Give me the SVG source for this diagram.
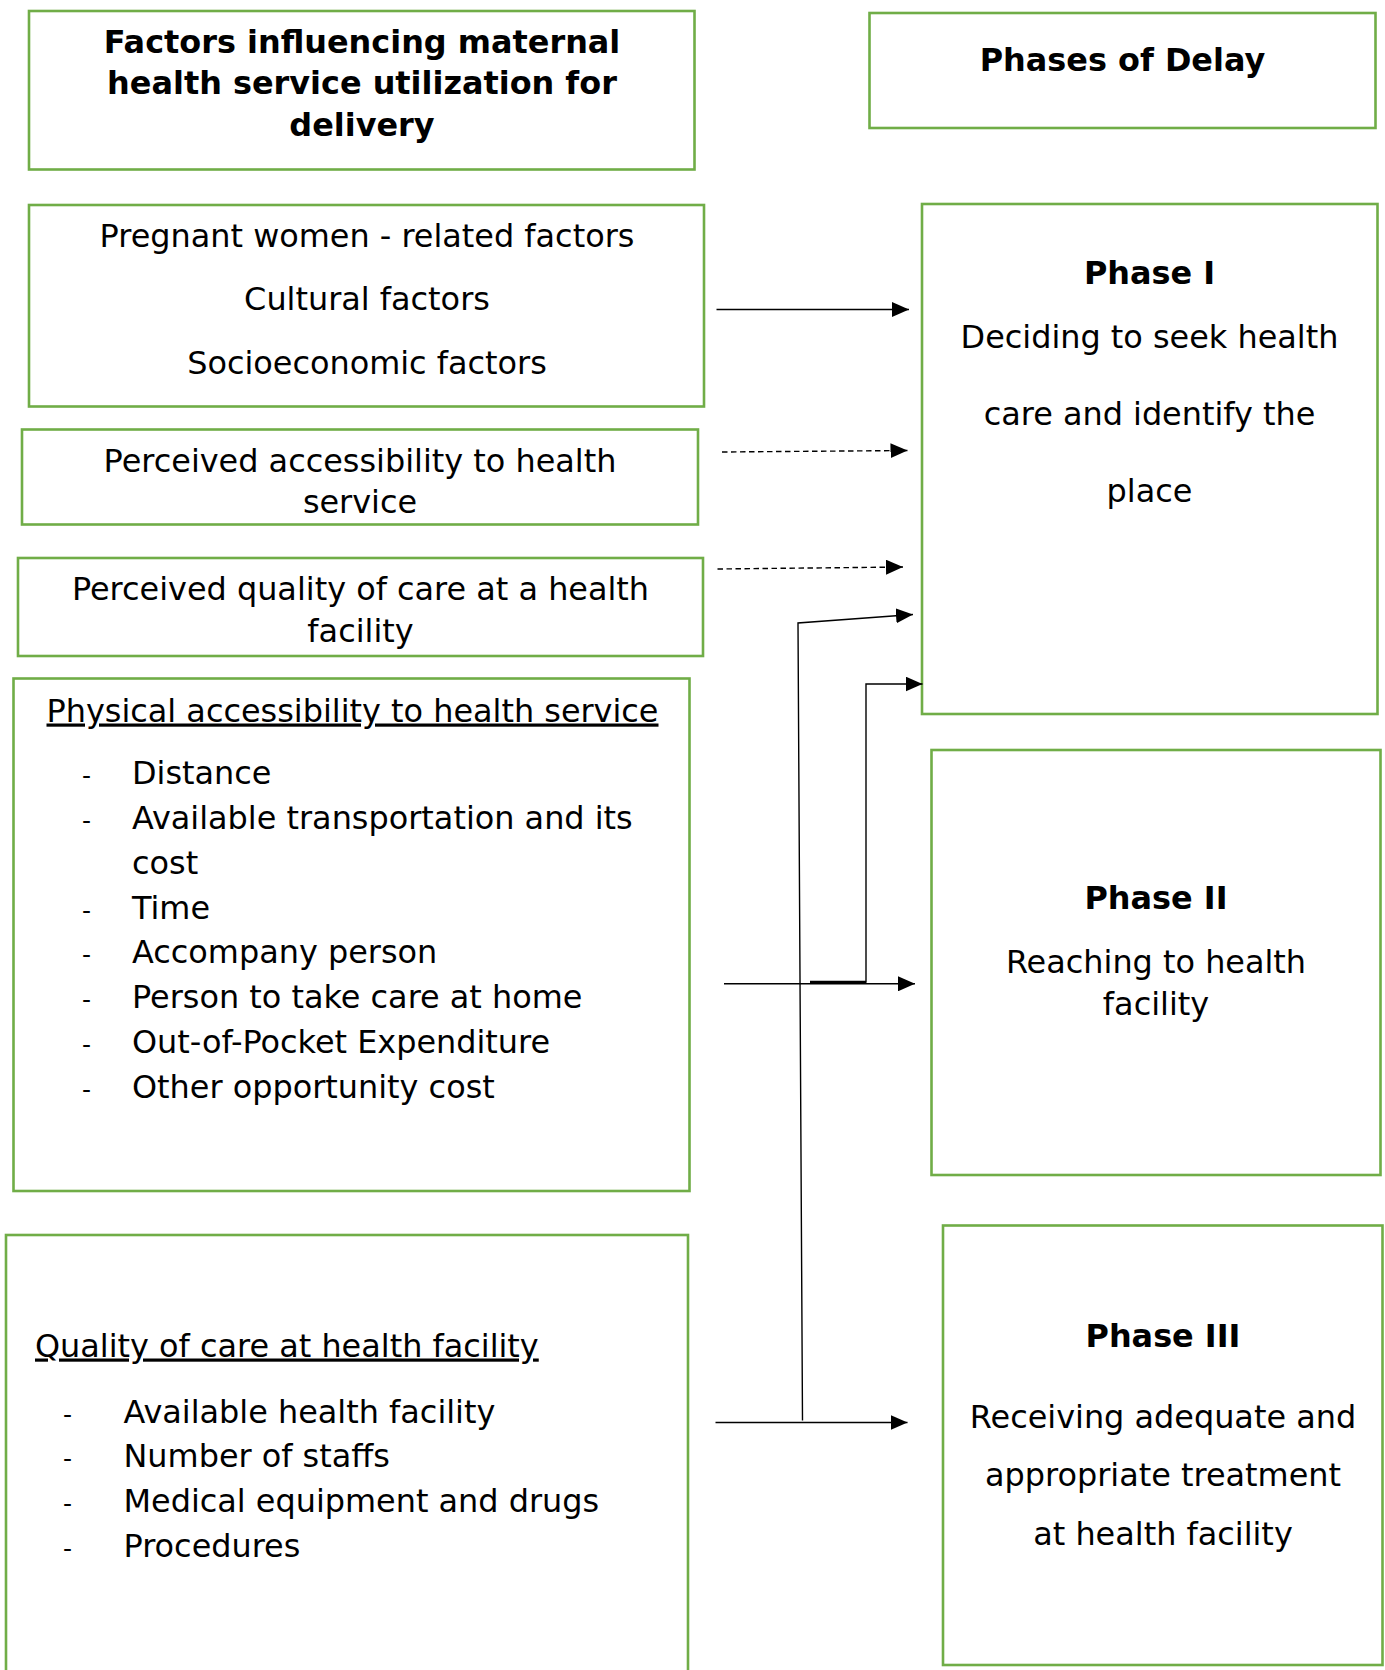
<svg xmlns="http://www.w3.org/2000/svg" width="1385" height="1670" viewBox="0 0 1385 1670">
<style>
.box{fill:#fff;stroke:#70AD47;stroke-width:2.6}
text{font-family:"DejaVu Sans",Verdana,sans-serif;font-size:31.9px;fill:#000}
.b{font-weight:bold}
.c{text-anchor:middle}
.u{text-decoration:underline}
.d{font-size:25px}
.ln{fill:none;stroke:#000;stroke-width:1.4}
.dash{stroke-dasharray:5.5 3.5}
</style>
<defs>
<marker id="ah" markerWidth="17" markerHeight="15" refX="17" refY="7.5" orient="auto" markerUnits="userSpaceOnUse">
<path d="M0,0 L17,7.5 L0,15 Z" fill="#000"/>
</marker>
</defs>

<g id="factors-title">
<rect class="box" x="29" y="11" width="665.5" height="158.5"/>
<text class="b c" x="362" y="52.5">Factors influencing maternal</text>
<text class="b c" x="362" y="94">health service utilization for</text>
<text class="b c" x="362" y="135.5">delivery</text>
</g>

<g id="phases-title">
<rect class="box" x="869.5" y="13" width="506" height="115"/>
<text class="b c" x="1122.5" y="71">Phases of Delay</text>
</g>

<g id="women-factors">
<rect class="box" x="29" y="205" width="675" height="201.5"/>
<text class="c" x="367" y="246.5">Pregnant women - related factors</text>
<text class="c" x="367" y="310">Cultural factors</text>
<text class="c" x="367" y="373.5">Socioeconomic factors</text>
</g>

<g id="perceived-access">
<rect class="box" x="22" y="429.5" width="676" height="95"/>
<text class="c" x="360" y="471.5">Perceived accessibility to health</text>
<text class="c" x="360" y="512.5">service</text>
</g>

<g id="perceived-quality">
<rect class="box" x="18" y="558" width="685" height="98"/>
<text class="c" x="360.5" y="600">Perceived quality of care at a health</text>
<text class="c" x="360.5" y="641.5">facility</text>
</g>

<g id="physical-access">
<rect class="box" x="13.5" y="678.5" width="676" height="512.5"/>
<text class="u" x="46.5" y="721.5">Physical accessibility to health service</text>
<text class="d" x="82" y="784">-</text><text x="132" y="784">Distance</text>
<text class="d" x="82" y="829">-</text><text x="132" y="829">Available transportation and its</text>
<text x="132" y="873.5">cost</text>
<text class="d" x="82" y="918.5">-</text><text x="132" y="918.5">Time</text>
<text class="d" x="82" y="963">-</text><text x="132" y="963">Accompany person</text>
<text class="d" x="82" y="1008">-</text><text x="132" y="1008">Person to take care at home</text>
<text class="d" x="82" y="1052.5">-</text><text x="132" y="1052.5">Out-of-Pocket Expenditure</text>
<text class="d" x="82" y="1097.5">-</text><text x="132" y="1097.5">Other opportunity cost</text>
</g>

<g id="quality-care">
<rect class="box" x="6" y="1235" width="682" height="460"/>
<text class="u" x="35" y="1356.5">Quality of care at health facility</text>
<text class="d" x="63" y="1422.5">-</text><text x="123.5" y="1422.5">Available health facility</text>
<text class="d" x="63" y="1467">-</text><text x="123.5" y="1467">Number of staffs</text>
<text class="d" x="63" y="1512">-</text><text x="123.5" y="1512">Medical equipment and drugs</text>
<text class="d" x="63" y="1556.5">-</text><text x="123.5" y="1556.5">Procedures</text>
</g>

<g id="phase-1">
<rect class="box" x="922" y="204" width="455.5" height="510"/>
<text class="b c" x="1149.5" y="283.5">Phase I</text>
<text class="c" x="1149.5" y="347.5">Deciding to seek health</text>
<text class="c" x="1149.5" y="425">care and identify the</text>
<text class="c" x="1149.5" y="501.5">place</text>
</g>

<g id="phase-2">
<rect class="box" x="931.5" y="750" width="449" height="425"/>
<text class="b c" x="1156" y="909">Phase II</text>
<text class="c" x="1156" y="973">Reaching to health</text>
<text class="c" x="1156" y="1014.5">facility</text>
</g>

<g id="phase-3">
<rect class="box" x="943" y="1225.5" width="439.5" height="439.5"/>
<text class="b c" x="1163" y="1347">Phase III</text>
<text class="c" x="1163" y="1427.5">Receiving adequate and</text>
<text class="c" x="1163" y="1486">appropriate treatment</text>
<text class="c" x="1163" y="1545">at health facility</text>
</g>

<g id="connectors">
<line class="ln" x1="716.5" y1="309.5" x2="909" y2="309.5" marker-end="url(#ah)"/>
<line class="ln dash" x1="722" y1="452" x2="907.5" y2="450.5" marker-end="url(#ah)"/>
<line class="ln dash" x1="717.5" y1="569" x2="903" y2="567" marker-end="url(#ah)"/>
<line class="ln" x1="724" y1="983.8" x2="915" y2="983.8" marker-end="url(#ah)"/>
<polyline class="ln" points="810,982 866,982 866,684 922.5,684" marker-end="url(#ah)"/>
<line x1="810" y1="982" x2="866" y2="982" stroke="#000" stroke-width="2.4"/>
<line class="ln" x1="715.5" y1="1422.5" x2="907.5" y2="1422.5" marker-end="url(#ah)"/>
<polyline class="ln" points="802.5,1420.5 798,623 913,614.5" marker-end="url(#ah)"/>
</g>
</svg>
